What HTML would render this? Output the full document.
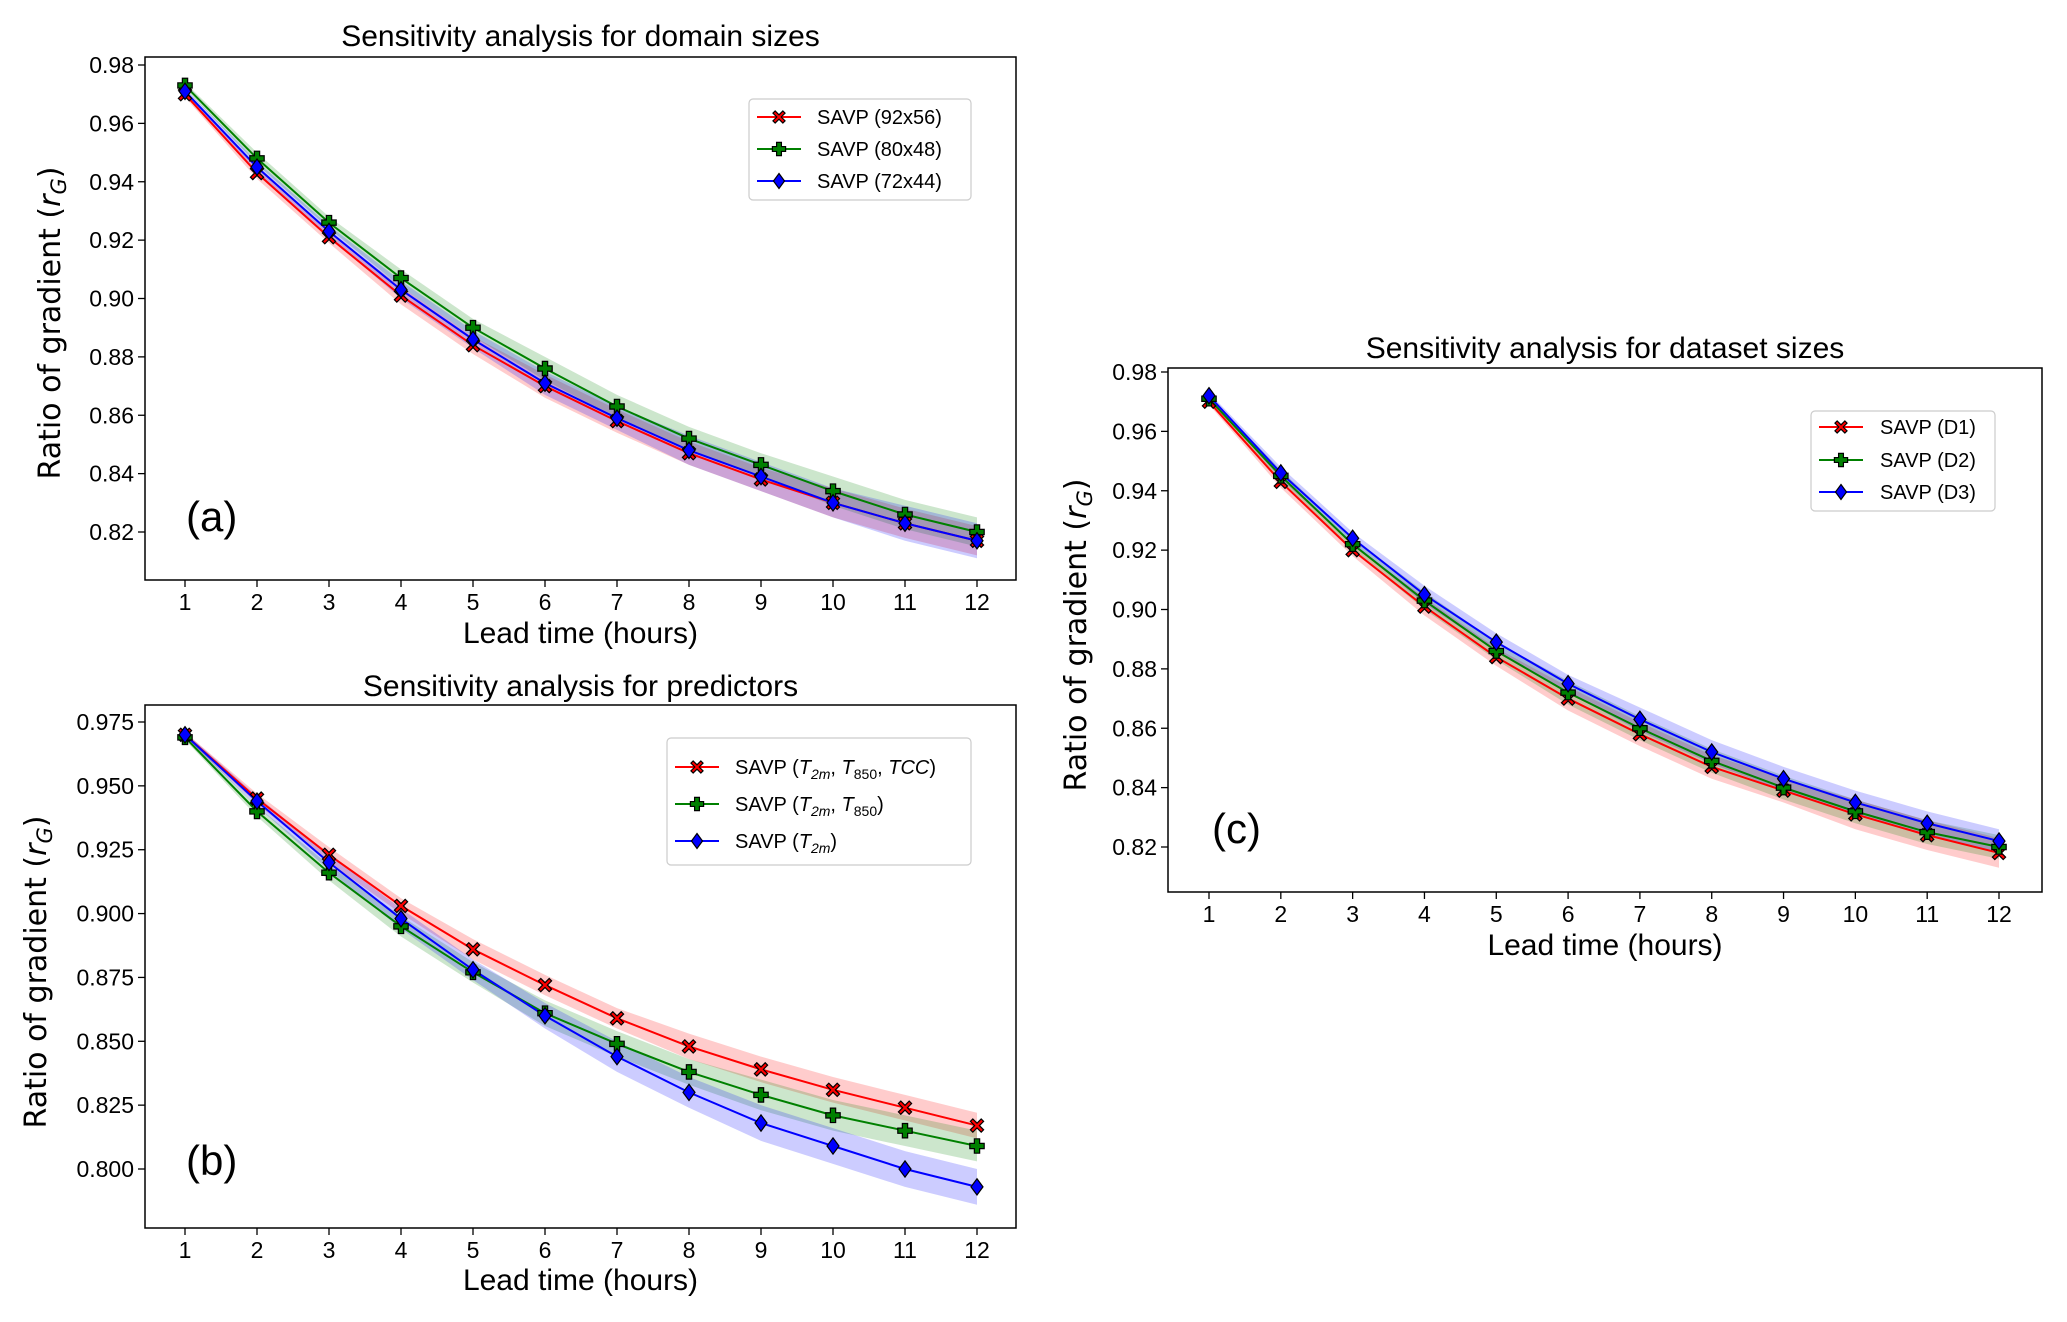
<!DOCTYPE html>
<html><head><meta charset="utf-8">
<style>
html,body{margin:0;padding:0;background:#fff;}
svg{display:block;font-family:"Liberation Sans","DejaVu Sans",sans-serif;}
</style></head>
<body>
<svg id="fig" width="2067" height="1322" viewBox="0 0 2067 1322" xmlns="http://www.w3.org/2000/svg"></svg>
<script>
// ---- data ----
const leadHours = [1,2,3,4,5,6,7,8,9,10,11,12];
// panel (a) domain sizes
const aRed   = [0.970,0.943,0.921,0.901,0.884,0.870,0.858,0.847,0.838,0.830,0.823,0.817];
const aGreen = [0.973,0.948,0.926,0.907,0.890,0.876,0.863,0.852,0.843,0.834,0.826,0.820];
const aBlue  = [0.971,0.945,0.923,0.903,0.886,0.871,0.859,0.848,0.839,0.830,0.823,0.817];
const aRedSd   = [0.001,0.002,0.002,0.003,0.003,0.004,0.004,0.004,0.004,0.005,0.005,0.005];
const aGreenSd = [0.001,0.002,0.002,0.003,0.003,0.004,0.004,0.004,0.004,0.005,0.005,0.005];
const aBlueSd  = [0.001,0.002,0.002,0.003,0.003,0.004,0.004,0.005,0.005,0.005,0.006,0.006];
const aYTicks = [0.82,0.84,0.86,0.88,0.90,0.92,0.94,0.96,0.98];
// panel (b) predictors
const bRed   = [0.970,0.945,0.923,0.903,0.886,0.872,0.859,0.848,0.839,0.831,0.824,0.817];
const bGreen = [0.969,0.940,0.916,0.895,0.877,0.861,0.849,0.838,0.829,0.821,0.815,0.809];
const bBlue  = [0.970,0.944,0.920,0.898,0.878,0.860,0.844,0.830,0.818,0.809,0.800,0.793];
const bRedSd   = [0.001,0.002,0.003,0.003,0.004,0.004,0.004,0.005,0.005,0.005,0.005,0.005];
const bGreenSd = [0.001,0.002,0.003,0.004,0.004,0.005,0.005,0.005,0.006,0.006,0.006,0.006];
const bBlueSd  = [0.001,0.002,0.003,0.004,0.004,0.005,0.006,0.006,0.007,0.007,0.007,0.007];
const bYTicks = [0.800,0.825,0.850,0.875,0.900,0.925,0.950,0.975];
// panel (c) dataset sizes
const cRed   = [0.970,0.943,0.920,0.901,0.884,0.870,0.858,0.847,0.839,0.831,0.824,0.818];
const cGreen = [0.971,0.945,0.922,0.903,0.886,0.872,0.860,0.849,0.840,0.832,0.825,0.820];
const cBlue  = [0.972,0.946,0.924,0.905,0.889,0.875,0.863,0.852,0.843,0.835,0.828,0.822];
const cRedSd   = [0.001,0.002,0.002,0.003,0.003,0.004,0.004,0.004,0.004,0.005,0.005,0.005];
const cGreenSd = [0.001,0.002,0.002,0.003,0.003,0.004,0.004,0.004,0.004,0.004,0.004,0.004];
const cBlueSd  = [0.001,0.002,0.002,0.003,0.003,0.003,0.004,0.004,0.004,0.004,0.004,0.004];
const cYTicks = [0.82,0.84,0.86,0.88,0.90,0.92,0.94,0.96,0.98];

const NS = "http://www.w3.org/2000/svg";
const svg = document.getElementById('fig');
function mk(tag, attrs, parent){
  const e = document.createElementNS(NS, tag);
  for (const k in attrs) e.setAttribute(k, attrs[k]);
  (parent||svg).appendChild(e);
  return e;
}
const COL = {red:'#ff0000', green:'#008000', blue:'#0000ff'};

function marker(g, kind, cx, cy, s){
  let el;
  if (kind==='x'){
    const a=s*0.55, b=s*0.2;
    const pts=[[0,-b],[a-b,-a],[a,-a+b],[b,0],[a,a-b],[a-b,a],[0,b],[-a+b,a],[-a,a-b],[-b,0],[-a,-a+b],[-a+b,-a]];
    el = mk('polygon',{points:pts.map(p=>(cx+p[0])+','+(cy+p[1])).join(' '),fill:COL.red,stroke:'#000','stroke-width':1.2},g);
  } else if (kind==='p'){
    const a=s*0.6, b=s*0.22;
    const pts=[[-b,-a],[b,-a],[b,-b],[a,-b],[a,b],[b,b],[b,a],[-b,a],[-b,b],[-a,b],[-a,-b],[-b,-b]];
    el = mk('polygon',{points:pts.map(p=>(cx+p[0])+','+(cy+p[1])).join(' '),fill:COL.green,stroke:'#000','stroke-width':1.2},g);
  } else {
    const w=s*0.5, h=s*0.68;
    el = mk('polygon',{points:`${cx},${cy-h} ${cx+w},${cy} ${cx},${cy+h} ${cx-w},${cy}`,fill:COL.blue,stroke:'#000','stroke-width':1.2},g);
  }
  return el;
}

function panel(cfg){
  const g = mk('g',{});
  
  
  const {L,T,R,B,x1px,x12px,yTopVal,yTopPx,yBotVal,yBotPx} = cfg;
  const xs = v => x1px + (v-1)*(x12px-x1px)/11;
  const ys = v => yBotPx + (v-yBotVal)*(yTopPx-yBotPx)/(yTopVal-yBotVal);
  const t = mk('text',{x:(L+R)/2,y:cfg.titleY,'text-anchor':'middle','font-size':30,fill:'#000'},g);
  t.textContent = cfg.title;
  
  
  cfg.series.forEach(s=>{
    const up = s.vals.map((v,i)=>xs(leadHours[i])+','+ys(v+s.sd[i]));
    const dn = s.vals.map((v,i)=>xs(leadHours[i])+','+ys(v-s.sd[i])).reverse();
    const p = mk('polygon',{points:up.concat(dn).join(' '),fill:s.col,'fill-opacity':0.2,stroke:'none'},g);
    
    
  });
  cfg.series.forEach(s=>{
    const pl = mk('polyline',{points:s.vals.map((v,i)=>xs(leadHours[i])+','+ys(v)).join(' '),fill:'none',stroke:s.col,'stroke-width':2},g);
    
    
  });
  cfg.series.forEach(s=>{
    s.vals.forEach((v,i)=>{
      const m = marker(g, s.mk, xs(leadHours[i]), ys(v), 12);
      
      
    });
  });
  const fr = mk('rect',{x:L,y:T,width:R-L,height:B-T,fill:'none',stroke:'#000','stroke-width':1.5},g);
  
  
  leadHours.forEach(h=>{
    mk('line',{x1:xs(h),x2:xs(h),y1:B,y2:B+7,stroke:'#000','stroke-width':1.3},g);
    const tl = mk('text',{x:xs(h),y:B+30,'text-anchor':'middle','font-size':23,fill:'#000'},g);
    tl.textContent = h;
    
    
  });
  cfg.yTicks.forEach(v=>{
    mk('line',{x1:L-7,x2:L,y1:ys(v),y2:ys(v),stroke:'#000','stroke-width':1.3},g);
    const tl = mk('text',{x:L-11,y:ys(v)+8,'text-anchor':'end','font-size':23,fill:'#000'},g);
    tl.textContent = v.toFixed(cfg.dec);
    
    
  });
  const xt = mk('text',{x:(L+R)/2,y:cfg.xLabY,'text-anchor':'middle','font-size':30,fill:'#000'},g);
  xt.textContent = 'Lead time (hours)';
  
  
  const yt = mk('text',{x:0,y:0,'text-anchor':'middle','font-size':30,fill:'#000','font-family':'"DejaVu Sans",sans-serif',transform:`translate(${cfg.yLabX},${cfg.yLabY}) rotate(-90)`},g);
  
  
  yt.innerHTML = 'Ratio of gradient (<tspan font-style="italic">r</tspan><tspan font-style="italic" font-size="21" dy="6">G</tspan><tspan dy="-6">)</tspan>';
  const pl = mk('text',{x:cfg.letterX,y:cfg.letterY,'font-size':42,fill:'#000'},g);
  pl.textContent = cfg.letter;
  
  
  const lg = mk('g',{},g);
  
  
  const Lg = cfg.legend;
  mk('rect',{x:Lg.x,y:Lg.y,width:Lg.w,height:Lg.h,rx:4,fill:'#fff','fill-opacity':0.85,stroke:'#ccc','stroke-width':1.2},lg);
  cfg.series.forEach((s,i)=>{
    const ey = Lg.rowY[i];
    const e = mk('g',{},lg);
    
    
    mk('line',{x1:Lg.hx1,x2:Lg.hx2,y1:ey,y2:ey,stroke:s.col,'stroke-width':2},e);
    marker(e, s.mk, (Lg.hx1+Lg.hx2)/2, ey, 11);
    const tx = mk('text',{x:Lg.tx,y:ey+7,'font-size':20,fill:'#000'},e);
    tx.innerHTML = s.label;
  });
}

panel({name:'panel-a-domain-sizes', title:'Sensitivity analysis for domain sizes', titleY:46,
  L:145,T:57,R:1016,B:580, x1px:185,x12px:977, yTopVal:0.98,yTopPx:65,yBotVal:0.82,yBotPx:532,
  yTicks:aYTicks, dec:2, xLabY:643, yLabX:60, yLabY:323, letter:'(a)', letterX:186, letterY:531,
  legend:{x:749,y:99,w:222,h:101,rowY:[117,149,181],hx1:757,hx2:801,tx:817},
  series:[
    {key:'savp-92x56',vals:aRed,sd:aRedSd,col:COL.red,mk:'x',label:'SAVP (92x56)'},
    {key:'savp-80x48',vals:aGreen,sd:aGreenSd,col:COL.green,mk:'p',label:'SAVP (80x48)'},
    {key:'savp-72x44',vals:aBlue,sd:aBlueSd,col:COL.blue,mk:'d',label:'SAVP (72x44)'}]});

panel({name:'panel-b-predictors', title:'Sensitivity analysis for predictors', titleY:696,
  L:145,T:705,R:1016,B:1228, x1px:185,x12px:977, yTopVal:0.975,yTopPx:722,yBotVal:0.800,yBotPx:1169,
  yTicks:bYTicks, dec:3, xLabY:1290, yLabX:46, yLabY:972, letter:'(b)', letterX:186, letterY:1175,
  legend:{x:667,y:738,w:304,h:127,rowY:[767,804,841],hx1:675,hx2:719,tx:735},
  series:[
    {key:'savp-t2m-t850-tcc',vals:bRed,sd:bRedSd,col:COL.red,mk:'x',label:'SAVP (<tspan font-style="italic">T</tspan><tspan font-style="italic" font-size="14" dy="5">2m</tspan><tspan dy="-5">, </tspan><tspan font-style="italic">T</tspan><tspan font-size="14" dy="5">850</tspan><tspan dy="-5">, </tspan><tspan font-style="italic">TCC</tspan>)'},
    {key:'savp-t2m-t850',vals:bGreen,sd:bGreenSd,col:COL.green,mk:'p',label:'SAVP (<tspan font-style="italic">T</tspan><tspan font-style="italic" font-size="14" dy="5">2m</tspan><tspan dy="-5">, </tspan><tspan font-style="italic">T</tspan><tspan font-size="14" dy="5">850</tspan><tspan dy="-5">)</tspan>'},
    {key:'savp-t2m',vals:bBlue,sd:bBlueSd,col:COL.blue,mk:'d',label:'SAVP (<tspan font-style="italic">T</tspan><tspan font-style="italic" font-size="14" dy="5">2m</tspan><tspan dy="-5">)</tspan>'}]});

panel({name:'panel-c-dataset-sizes', title:'Sensitivity analysis for dataset sizes', titleY:358,
  L:1168,T:368,R:2042,B:892, x1px:1209,x12px:1999, yTopVal:0.98,yTopPx:372,yBotVal:0.82,yBotPx:847,
  yTicks:cYTicks, dec:2, xLabY:955, yLabX:1086, yLabY:635, letter:'(c)', letterX:1212, letterY:843,
  legend:{x:1811,y:411,w:184,h:100,rowY:[427,460,492],hx1:1819,hx2:1863,tx:1880},
  series:[
    {key:'savp-d1',vals:cRed,sd:cRedSd,col:COL.red,mk:'x',label:'SAVP (D1)'},
    {key:'savp-d2',vals:cGreen,sd:cGreenSd,col:COL.green,mk:'p',label:'SAVP (D2)'},
    {key:'savp-d3',vals:cBlue,sd:cBlueSd,col:COL.blue,mk:'d',label:'SAVP (D3)'}]});
</script>
</body></html>
